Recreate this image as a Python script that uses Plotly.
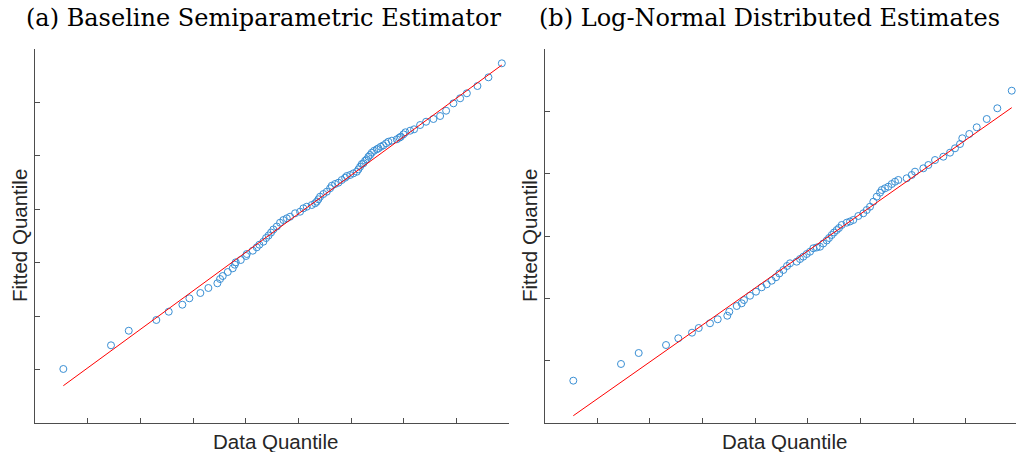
import plotly.graph_objects as go

# (a) Baseline semiparametric estimator: sorted data quantiles vs fitted quantiles
semi_data_q = [
    0.538, 1.443, 1.780, 2.304, 2.539, 2.798, 2.931, 3.140, 3.292, 3.463,
    3.514, 3.565, 3.660, 3.755, 3.793, 3.812, 3.907, 4.008, 4.021, 4.135,
    4.211, 4.260, 4.336, 4.387, 4.435, 4.482, 4.526, 4.591, 4.653, 4.716,
    4.781, 4.843, 4.938, 5.033, 5.096, 5.160, 5.255, 5.318, 5.350, 5.381,
    5.413, 5.476, 5.540, 5.603, 5.635, 5.698, 5.761, 5.825, 5.888, 5.920,
    5.983, 6.046, 6.110, 6.141, 6.173, 6.205, 6.236, 6.268, 6.300, 6.331,
    6.363, 6.395, 6.439, 6.490, 6.521, 6.566, 6.615, 6.667, 6.710, 6.775,
    6.870, 6.919, 6.946, 6.995, 7.033, 7.123, 7.198, 7.312, 7.426, 7.565,
    7.692, 7.806, 7.945, 8.072, 8.200, 8.401, 8.610, 8.864,
]
semi_fit_q = [
    1.011, 1.454, 1.727, 1.928, 2.083, 2.214, 2.334, 2.433, 2.527, 2.615,
    2.695, 2.751, 2.826, 2.895, 2.963, 3.008, 3.051, 3.126, 3.163, 3.225,
    3.288, 3.337, 3.393, 3.462, 3.509, 3.565, 3.622, 3.678, 3.749, 3.799,
    3.831, 3.861, 3.925, 3.955, 4.018, 4.048, 4.080, 4.112, 4.142, 4.187,
    4.236, 4.286, 4.329, 4.393, 4.441, 4.473, 4.497, 4.548, 4.591, 4.623,
    4.642, 4.673, 4.703, 4.748, 4.797, 4.847, 4.861, 4.909, 4.935, 4.984,
    5.016, 5.059, 5.096, 5.123, 5.141, 5.171, 5.197, 5.235, 5.265, 5.284,
    5.310, 5.340, 5.358, 5.403, 5.441, 5.471, 5.497, 5.577, 5.639, 5.690,
    5.746, 5.845, 5.983, 6.077, 6.171, 6.307, 6.470, 6.732,
]
semi_ref_y = [0.698, 6.700]   # reference line at min / max data quantile

# (b) Log-normal distributed estimates
logn_data_q = [
    0.547, 1.453, 1.789, 2.308, 2.541, 2.802, 2.929, 3.143, 3.290, 3.472,
    3.510, 3.651, 3.746, 3.789, 3.903, 4.017, 4.125, 4.220, 4.315, 4.397,
    4.460, 4.536, 4.606, 4.663, 4.790, 4.853, 4.915, 4.980, 5.043, 5.105,
    5.170, 5.233, 5.295, 5.360, 5.404, 5.455, 5.499, 5.550, 5.593, 5.645,
    5.740, 5.802, 5.865, 5.960, 6.055, 6.120, 6.182, 6.245, 6.310, 6.372,
    6.405, 6.467, 6.530, 6.595, 6.657, 6.720, 6.879, 6.974, 7.037, 7.195,
    7.290, 7.417, 7.575, 7.702, 7.797, 7.892, 7.935, 8.068, 8.209, 8.399,
    8.600, 8.874,
]
logn_fit_q = [
    0.679, 0.947, 1.123, 1.251, 1.359, 1.449, 1.524, 1.600, 1.664, 1.721,
    1.786, 1.877, 1.920, 1.973, 2.042, 2.107, 2.177, 2.225, 2.283, 2.338,
    2.399, 2.455, 2.519, 2.562, 2.588, 2.631, 2.668, 2.711, 2.748, 2.803,
    2.816, 2.828, 2.880, 2.928, 2.968, 3.016, 3.056, 3.096, 3.128, 3.177,
    3.214, 3.233, 3.257, 3.321, 3.364, 3.417, 3.470, 3.550, 3.631, 3.695,
    3.738, 3.765, 3.791, 3.834, 3.871, 3.899, 3.926, 3.979, 4.032, 4.086,
    4.139, 4.219, 4.272, 4.337, 4.407, 4.476, 4.568, 4.637, 4.744, 4.877,
    5.049, 5.331,
]
logn_ref_y = [0.117, 5.059]

panel_titles = ["(a) Baseline Semiparametric Estimator",
                "(b) Log-Normal Distributed Estimates"]
x_label = "Data Quantile"
y_label = "Fitted Quantile"

W, H = 1016, 452
MARK = "#3a8fd4"
AXC = "#4d4d4d"

fig = go.Figure()

def add_panel(xq, yq, ref_y, xa, ya):
    fig.add_trace(go.Scatter(
        x=xq, y=yq, mode="markers", xaxis=xa, yaxis=ya,
        marker=dict(symbol="circle-open", size=7, color=MARK,
                    line=dict(width=1, color=MARK)),
        showlegend=False, hoverinfo="skip"))
    fig.add_trace(go.Scatter(
        x=[min(xq), max(xq)], y=ref_y, mode="lines", xaxis=xa, yaxis=ya,
        line=dict(color="#ff0000", width=1),
        showlegend=False, hoverinfo="skip"))

add_panel(semi_data_q, semi_fit_q, semi_ref_y, "x", "y")
add_panel(logn_data_q, logn_fit_q, logn_ref_y, "x2", "y2")

ydom = [1 - 423 / H, 1 - 49 / H]
axis_common = dict(showgrid=False, zeroline=False, showticklabels=False,
                   ticks="inside", ticklen=5, tickwidth=1, tickcolor=AXC,
                   showline=True, linecolor=AXC, linewidth=1.2, mirror=False)

fig.update_layout(
    width=W, height=H,
    margin=dict(l=0, r=0, t=0, b=0),
    paper_bgcolor="white", plot_bgcolor="white",
    xaxis=dict(domain=[35 / W, 509 / W], range=[0, 9],
               tickvals=list(range(0, 10)), anchor="y", **axis_common),
    yaxis=dict(domain=ydom, range=[0, 7],
               tickvals=list(range(0, 8)), anchor="x", **axis_common),
    xaxis2=dict(domain=[544.5 / W, 1.0], range=[0, 8.955],
                tickvals=list(range(0, 9)), anchor="y2", **axis_common),
    yaxis2=dict(domain=ydom, range=[0, 6],
                tickvals=list(range(0, 7)), anchor="x2", **axis_common),
)

serif = dict(family="DejaVu Serif", size=24, color="#000000")
sans = dict(family="Liberation Sans", size=20.5, color="#262626")

def px_ann(text, x, y, font, angle=0, xanchor="center"):
    fig.add_annotation(text=text, x=x / W, y=1 - y / H, xref="paper", yref="paper",
                       showarrow=False, font=font, textangle=angle,
                       xanchor=xanchor, yanchor="middle")

px_ann(panel_titles[0], 24, 18, serif, xanchor="left")
px_ann(panel_titles[1], 537, 18, serif, xanchor="left")
px_ann(x_label, 275, 441, sans)
px_ann(x_label, 784, 441, sans)
px_ann(y_label, 19, 236, sans, angle=-90)
px_ann(y_label, 529, 236, sans, angle=-90)

fig.write_html("out.html")
